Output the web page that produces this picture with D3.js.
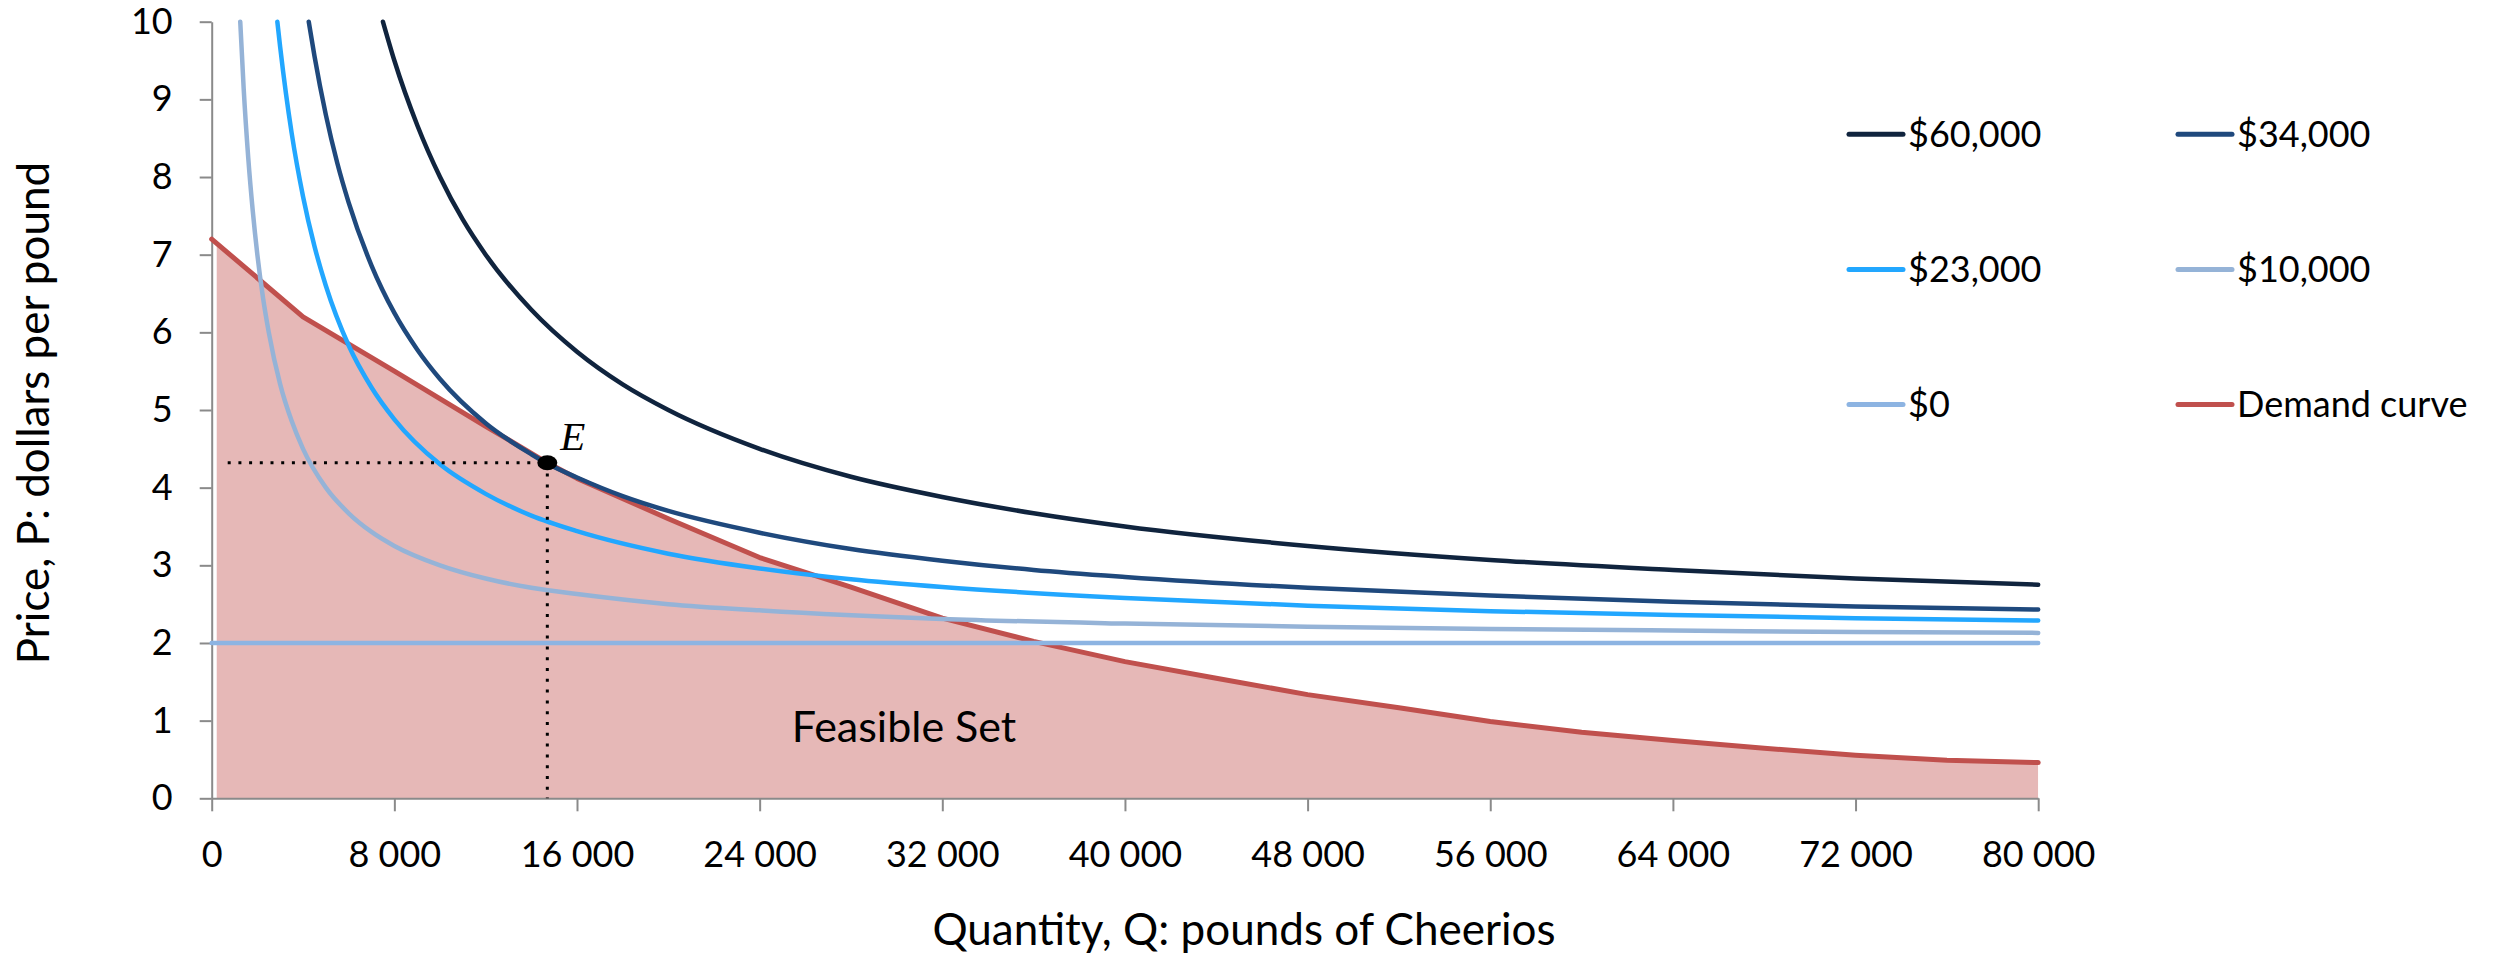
<!DOCTYPE html>
<html><head><meta charset="utf-8">
<script src="https://cdn.jsdelivr.net/npm/d3@7"></script>
<style>html,body{margin:0;padding:0;background:#fff;} svg{display:block;}</style>
</head><body>
<script>
// ---- tick values ----
const qTicks = [0, 8000, 16000, 24000, 32000, 40000, 48000, 56000, 64000, 72000, 80000];
const pTicks = [0, 1, 2, 3, 4, 5, 6, 7, 8, 9, 10];

// ---- isoprofit curves (Q, P) ----
const q60 = [7500, 8000, 9000, 10000, 11000, 12000, 14000, 16000, 18000, 20000, 24000, 28000, 32000, 36000, 40000, 48000, 56000, 64000, 72000, 80000];
const p60 = [10.00, 9.50, 8.67, 8.00, 7.45, 7.00, 6.29, 5.75, 5.33, 5.00, 4.50, 4.14, 3.88, 3.67, 3.50, 3.25, 3.07, 2.94, 2.83, 2.75];

const q34 = [4250, 4500, 5000, 5500, 6000, 7000, 8000, 9000, 10000, 12000, 14000, 14700, 16000, 18000, 20000, 24000, 28000, 32000, 36000, 40000, 48000, 56000, 64000, 72000, 80000];
const p34 = [10.00, 9.56, 8.80, 8.18, 7.67, 6.86, 6.25, 5.78, 5.40, 4.83, 4.43, 4.31, 4.13, 3.89, 3.70, 3.42, 3.21, 3.06, 2.94, 2.85, 2.71, 2.61, 2.53, 2.47, 2.43];

const q23 = [2875, 3000, 3250, 3500, 4000, 4500, 5000, 6000, 7000, 8000, 10000, 12000, 14000, 16000, 20000, 24000, 28000, 32000, 40000, 48000, 56000, 64000, 72000, 80000];
const p23 = [10.00, 9.67, 9.08, 8.57, 7.75, 7.11, 6.60, 5.83, 5.29, 4.88, 4.30, 3.92, 3.64, 3.44, 3.15, 2.96, 2.82, 2.72, 2.58, 2.48, 2.41, 2.36, 2.32, 2.29];

const q10 = [1250, 1400, 1600, 1800, 2000, 2250, 2500, 3000, 3500, 4000, 5000, 6000, 7000, 8000, 10000, 12000, 14000, 16000, 20000, 24000, 32000, 40000, 48000, 56000, 64000, 72000, 80000];
const p10 = [10.00, 9.14, 8.25, 7.56, 7.00, 6.44, 6.00, 5.33, 4.86, 4.50, 4.00, 3.67, 3.43, 3.25, 3.00, 2.83, 2.71, 2.63, 2.50, 2.42, 2.31, 2.25, 2.21, 2.18, 2.16, 2.14, 2.13];

const q0 = [0, 80000];
const p0 = [2.00, 2.00];

// ---- demand curve ----
const qD = [0, 4000, 8000, 12000, 14700, 16000, 20000, 24000, 28000, 32000, 36000, 40000, 44000, 48000, 52000, 56000, 60000, 64000, 68000, 72000, 76000, 80000];
const pD = [7.20, 6.20, 5.50, 4.79, 4.32, 4.12, 3.60, 3.10, 2.72, 2.32, 2.02, 1.76, 1.545, 1.335, 1.165, 0.99, 0.85, 0.745, 0.645, 0.555, 0.49, 0.46];

// ---- equilibrium point ----
const eQ = 14700, eP = 4.32;

const seriesNames = ["$60,000", "$34,000", "$23,000", "$10,000", "$0", "Demand curve"];
const seriesColors = ["#10243e", "#1f497d", "#22a7ff", "#95b3d7", "#8db4e2", "#c0504d"];

const W = 2514, H = 960;
const FONT = "Lato, 'Open Sans', sans-serif";
const svg = d3.select("body").append("svg").attr("width", W).attr("height", H);

const x = d3.scaleLinear().domain([0, 80000]).range([211.7, 2038.2]);
const y = d3.scaleLinear().domain([0, 10]).range([798.3, 21.7]);

const zip = (qs, ps) => qs.map((q, i) => [q, ps[i]]);
const line = d3.line().x(d => x(d[0])).y(d => y(d[1])).curve(d3.curveMonotoneX);
const lineD = d3.line().x(d => x(d[0])).y(d => y(d[1])).curve(d3.curveLinear);

// feasible set area
const clipId = "fillclip";
svg.append("clipPath").attr("id", clipId).append("rect")
  .attr("x", x(220)).attr("y", 0).attr("width", x(80000) - x(220)).attr("height", H);
const area = d3.area().x(d => x(d[0])).y0(y(0)).y1(d => y(d[1])).curve(d3.curveLinear);
svg.append("path").datum(zip(qD, pD)).attr("d", area)
  .attr("fill", "#e6b8b7").attr("clip-path", `url(#${clipId})`);

// axes
const locale = d3.formatLocale({decimal: ".", thousands: " ", grouping: [3], currency: ["$", ""]});
const fmtQ = locale.format(",d");

const gx = svg.append("g").attr("transform", `translate(0,${y(0)})`)
  .call(d3.axisBottom(x).tickValues(qTicks).tickSize(13).tickSizeOuter(0).tickPadding(30).tickFormat(fmtQ));
const gy = svg.append("g").attr("transform", `translate(${x(0)},0)`)
  .call(d3.axisLeft(y).tickValues(pTicks).tickSize(12).tickSizeOuter(0).tickPadding(27).tickFormat(d3.format("d")));
[gx, gy].forEach(g => {
  g.select(".domain").attr("stroke", "#8a8a8a").attr("stroke-width", 2);
  g.selectAll(".tick line").attr("stroke", "#8a8a8a").attr("stroke-width", 2);
  g.selectAll(".tick text").attr("font-family", FONT).attr("font-size", 36).attr("fill", "#000");
});

// demand line (under isoprofit curves)
svg.append("path").datum(zip(qD, pD)).attr("d", lineD)
  .attr("fill", "none").attr("stroke", seriesColors[5]).attr("stroke-width", 5)
  .attr("stroke-linecap", "round").attr("stroke-linejoin", "round");

// isoprofit curves
const curves = [[q0, p0, 4], [q10, p10, 3], [q23, p23, 2], [q34, p34, 1], [q60, p60, 0]];
curves.forEach(([qs, ps, ci]) => {
  svg.append("path").datum(zip(qs, ps)).attr("d", line)
    .attr("fill", "none").attr("stroke", seriesColors[ci]).attr("stroke-width", 4.5)
    .attr("stroke-linecap", "round").attr("stroke-linejoin", "round");
});

// dotted guide lines
svg.append("line").attr("x1", x(0) + 16).attr("x2", x(eQ)).attr("y1", y(eP)).attr("y2", y(eP))
  .attr("stroke", "#000").attr("stroke-width", 3).attr("stroke-dasharray", "3 7.7");
svg.append("line").attr("x1", x(eQ)).attr("x2", x(eQ)).attr("y1", y(eP)).attr("y2", y(0))
  .attr("stroke", "#000").attr("stroke-width", 3).attr("stroke-dasharray", "3 7.8");

// E marker
svg.append("ellipse").attr("cx", x(eQ)).attr("cy", y(eP)).attr("rx", 10).attr("ry", 7.5).attr("fill", "#000");
svg.append("text").attr("x", x(eQ) + 13).attr("y", y(eP) - 12.5)
  .attr("font-family", "'Liberation Serif', 'DejaVu Serif', serif").attr("font-style", "italic")
  .attr("font-size", 41).text("E");

// Feasible Set label
svg.append("text").attr("x", 904).attr("y", 741.7).attr("text-anchor", "middle")
  .attr("font-family", FONT).attr("font-size", 43).text("Feasible Set");

// axis titles
svg.append("text").attr("x", 1244).attr("y", 945).attr("text-anchor", "middle")
  .attr("font-family", FONT).attr("font-size", 44).text("Quantity, Q: pounds of Cheerios");
svg.append("text").attr("transform", `translate(49,${(y(0) + y(10)) / 2 + 3}) rotate(-90)`)
  .attr("text-anchor", "middle").attr("font-family", FONT).attr("font-size", 44)
  .text("Price, P: dollars per pound");

// legend
const legCols = [1849, 2178], legRows = [134.3, 269.5, 404.5];
seriesNames.forEach((name, i) => {
  const lx = legCols[i % 2], ly = legRows[Math.floor(i / 2)];
  const g = svg.append("g");
  g.append("line").attr("x1", lx).attr("x2", lx + 54).attr("y1", ly).attr("y2", ly)
    .attr("stroke", seriesColors[i]).attr("stroke-width", 5).attr("stroke-linecap", "round");
  g.append("text").attr("x", lx + 59).attr("y", ly + 12.5)
    .attr("font-family", FONT).attr("font-size", 36).text(name);
});
</script>
</body></html>
